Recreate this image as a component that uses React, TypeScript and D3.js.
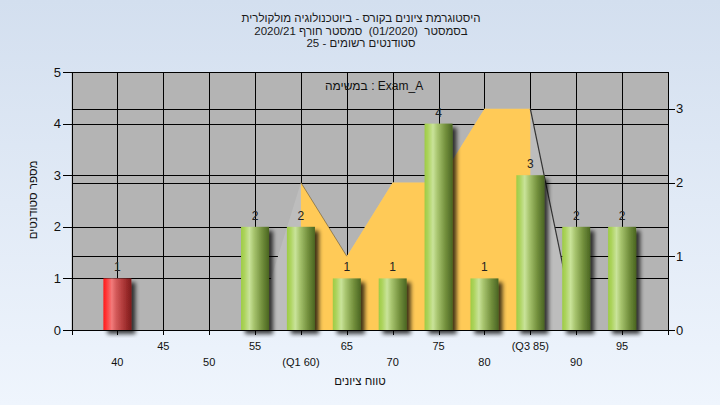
import React from "react";
import * as d3 from "d3";

const categories = [40, 45, 50, 55, 60, 65, 70, 75, 80, 85, 90, 95];
const counts = [1, 0, 0, 2, 2, 1, 1, 4, 1, 3, 2, 2];
const tickLabels = ["40", "45", "50", "55", "(Q1 60)", "65", "70", "75", "80", "(Q3 85)", "90", "95"];
const failingCats = [40];
const areaCats = [55, 60, 65, 70, 75, 80, 85, 90];
const areaVals = [0, 2, 1, 2, 2, 3, 3, 0];
const q1 = 60;
const q3 = 85;
const leftTicks = [0, 1, 2, 3, 4, 5];
const rightTicks = [0, 1, 2, 3];
const titleLines = [
  "היסטוגרמת ציונים בקורס - ביוטכנולוגיה מולקולרית",
  "בסמסטר  (01/2020)  סמסטר חורף 2020/21",
  "סטודנטים רשומים - 25",
];
const taskLabel = "במשימה : Exam_A";
const xTitle = "טווח ציונים";
const yTitle = "מספר סטודנטים";

const W = 720;
const H = 405;
const L = 71.5;
const R = 668;
const T = 72;
const B = 330;
const FONT = "'Liberation Sans', Arial, sans-serif";

export default function App() {
  const x = d3.scaleLinear().domain([35, 100]).range([L, R]);
  const y = d3.scaleLinear().domain([0, 5]).range([B, T]);
  const y2 = d3.scaleLinear().domain([0, 3.5]).range([B, T]);
  const barW = 28;
  const px = (v: number) => Math.round(v) + 0.5;

  const areaGen = d3
    .area<number>()
    .x((_, i) => x(areaCats[i]))
    .y0(B)
    .y1((d) => y2(d));
  const areaPath = areaGen(areaVals) || "";
  const idxQ1 = areaCats.indexOf(q1);
  const idxQ3 = areaCats.indexOf(q3);
  const edgeLine = d3
    .line<number>()
    .x((_, i) => x(areaCats[i + idxQ1]))
    .y((d) => y2(d));
  const fallEdge = edgeLine(areaVals.slice(idxQ1, idxQ1 + 2)) || "";
  const tailLine = d3
    .line<number>()
    .x((_, i) => x(areaCats[i + idxQ3]))
    .y((d) => y2(d));
  const rightTail = tailLine(areaVals.slice(idxQ3, idxQ3 + 2)) || "";

  const vGrid = d3.range(40, 100, 5);

  return (
    <svg
      width={W}
      height={H}
      style={{ position: "absolute", left: 0, top: 0, display: "block" }}
      fontFamily={FONT}
    >
      <defs>
        <linearGradient id="bg" x1="0" y1="0" x2="0" y2="1">
          <stop offset="0" stopColor="#D3DFEF" />
          <stop offset="1" stopColor="#EFF5FD" />
        </linearGradient>
        <linearGradient id="gGreen" x1="0" y1="0" x2="1" y2="0">
          <stop offset="0" stopColor="#9DCC45" />
          <stop offset="0.12" stopColor="#ACD35C" />
          <stop offset="0.3" stopColor="#C9E39A" />
          <stop offset="0.45" stopColor="#A9C670" />
          <stop offset="0.75" stopColor="#728F3C" />
          <stop offset="1" stopColor="#4A6522" />
        </linearGradient>
        <linearGradient id="gRed" x1="0" y1="0" x2="1" y2="0">
          <stop offset="0" stopColor="#FF1A1A" />
          <stop offset="0.12" stopColor="#FF3A3A" />
          <stop offset="0.3" stopColor="#F27B7B" />
          <stop offset="0.45" stopColor="#D45A5A" />
          <stop offset="0.75" stopColor="#A83434" />
          <stop offset="1" stopColor="#7E1A1A" />
        </linearGradient>
        <filter id="sh" x="-30%" y="-10%" width="170%" height="130%">
          <feGaussianBlur in="SourceAlpha" stdDeviation="2" />
          <feOffset dx="4" dy="4" result="o" />
          <feComponentTransfer>
            <feFuncA type="linear" slope="0.75" />
          </feComponentTransfer>
          <feMerge>
            <feMergeNode />
            <feMergeNode in="SourceGraphic" />
          </feMerge>
        </filter>
        <clipPath id="inQ">
          <rect x={x(q1)} y={T} width={x(q3) - x(q1)} height={B - T} />
        </clipPath>
        <clipPath id="plotClip">
          <rect x={L} y={T} width={R - L} height={B - T + 8} />
        </clipPath>
      </defs>

      <rect x={0} y={0} width={W} height={H} fill="url(#bg)" />

      {/* title */}
      <g fontSize={11.5} fill="#1a1a1a" textAnchor="middle" direction="rtl">
        {titleLines.map((t, i) => (
          <text key={i} x={361} y={22 + i * 12.7} direction="rtl" style={{ whiteSpace: "pre" }}>
            {t}
          </text>
        ))}
      </g>

      {/* plot background */}
      <rect x={L} y={T} width={R - L} height={B - T} fill="#B4B4B4" />

      {/* grid */}
      <g stroke="#000" strokeWidth={1} shapeRendering="crispEdges">
        {leftTicks.slice(1, -1).map((t) => (
          <line key={"l" + t} x1={L} x2={R} y1={px(y(t))} y2={px(y(t))} />
        ))}
        {rightTicks.slice(1).map((t) => (
          <line key={"r" + t} x1={L} x2={R} y1={px(y2(t))} y2={px(y2(t))} />
        ))}
        {vGrid.map((c) => (
          <line key={"v" + c} x1={px(x(c))} x2={px(x(c))} y1={T} y2={B} />
        ))}
      </g>

      {/* area series */}
      <path d={areaPath} fill="#BDBDBD" />
      <path d={areaPath} fill="#FFCA57" clipPath="url(#inQ)" />
      <path d={fallEdge} fill="none" stroke="#5a4a2a" strokeWidth={0.8} strokeOpacity={0.7} />
      <path d={rightTail} fill="none" stroke="#333" strokeWidth={1.2} />

      {/* bars */}
      <g clipPath="url(#plotClip)">
        {categories.map((c, i) =>
          counts[i] > 0 ? (
            <rect
              key={"b" + c}
              x={x(c) - barW / 2}
              y={y(counts[i])}
              width={barW}
              height={B - y(counts[i])}
              fill={failingCats.includes(c) ? "url(#gRed)" : "url(#gGreen)"}
              filter="url(#sh)"
            />
          ) : null
        )}
      </g>

      {/* bar labels */}
      <g fontSize={12} fill="#222" textAnchor="middle">
        {categories.map((c, i) =>
          counts[i] > 0 ? (
            <text key={"t" + c} x={x(c)} y={y(counts[i]) - 7}>
              {counts[i]}
            </text>
          ) : null
        )}
      </g>

      {/* plot border / axes */}
      <rect
        x={px(L)}
        y={px(T)}
        width={Math.round(R) - Math.round(L)}
        height={B - T}
        fill="none"
        stroke="#000"
        shapeRendering="crispEdges"
      />

      {/* ticks */}
      <g stroke="#000" shapeRendering="crispEdges">
        {leftTicks.map((t) => (
          <line key={"lt" + t} x1={L - 9} x2={L} y1={px(y(t))} y2={px(y(t))} />
        ))}
        {rightTicks.map((t) => (
          <line key={"rt" + t} x1={R} x2={R + 7} y1={px(y2(t))} y2={px(y2(t))} />
        ))}
        {[35, ...vGrid, 100].map((c) => (
          <line key={"xt" + c} x1={px(x(c))} x2={px(x(c))} y1={B} y2={B + 5} />
        ))}
      </g>
      <g fontSize={13} fill="#111" textAnchor="end">
        {leftTicks.map((t) => (
          <text key={"ll" + t} x={61} y={y(t) + 4.5}>
            {t}
          </text>
        ))}
      </g>
      <g fontSize={13} fill="#111" textAnchor="start">
        {rightTicks.map((t) => (
          <text key={"rl" + t} x={676} y={y2(t) + 4.5}>
            {t}
          </text>
        ))}
      </g>

      {/* x labels, staggered */}
      <g fontSize={11} fill="#111" textAnchor="middle">
        {categories.map((c, i) => (
          <text key={"xl" + c} x={x(c)} y={i % 2 === 0 ? 365.5 : 350}>
            {tickLabels[i]}
          </text>
        ))}
      </g>

      <text x={360} y={385} fontSize={11.5} fill="#111" textAnchor="middle" direction="rtl">
        {xTitle}
      </text>
      <text
        transform={`translate(37,200) rotate(-90)`}
        fontSize={11.5}
        fill="#111"
        textAnchor="middle"
        direction="rtl"
      >
        {yTitle}
      </text>

      <text x={325} y={90} fontSize={12} fill="#111">
        {taskLabel}
      </text>
    </svg>
  );
}
